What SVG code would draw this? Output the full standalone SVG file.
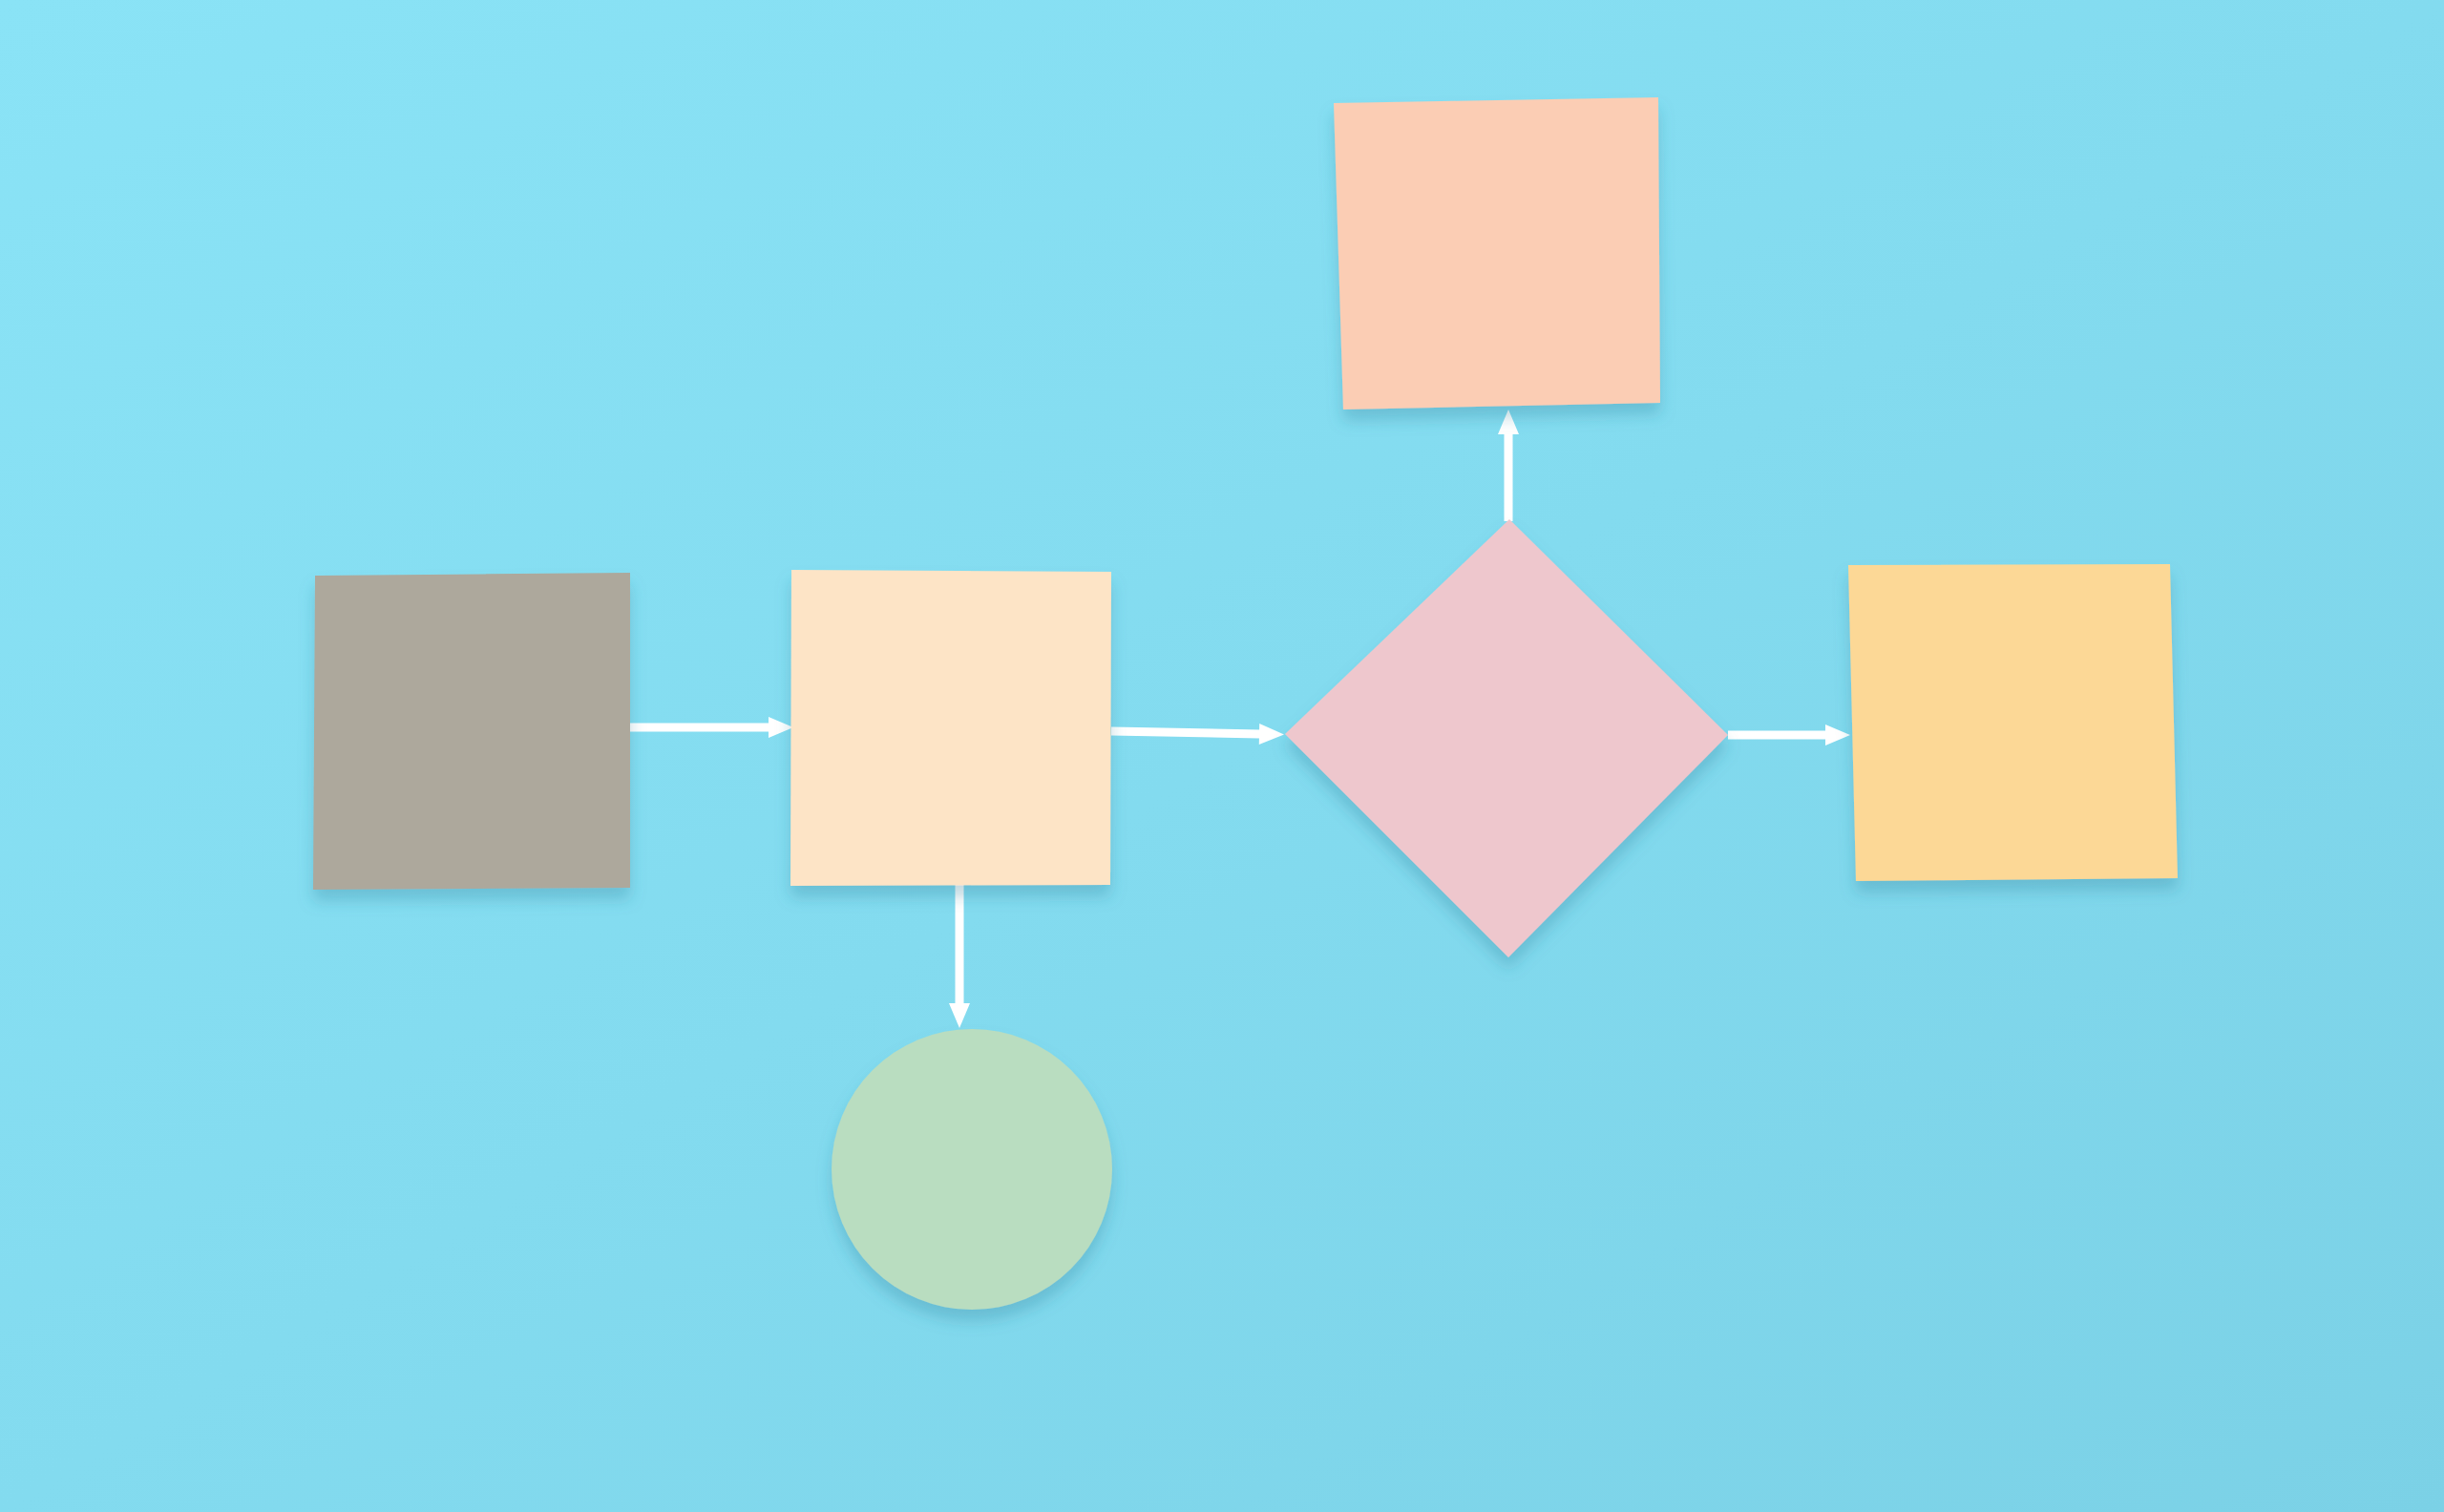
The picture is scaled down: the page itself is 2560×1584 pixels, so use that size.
<svg xmlns="http://www.w3.org/2000/svg" width="2560" height="1584" viewBox="0 0 2560 1584">
<style>
.conn{stroke:#ffffff;stroke-width:9;fill:none;stroke-linecap:butt}
.card{filter:url(#shadow)}
</style>
<defs>
<linearGradient id="bg" x1="0" y1="0" x2="1" y2="1">
<stop offset="0" stop-color="#8AE3F6"/>
<stop offset="0.5" stop-color="#83DBEF"/>
<stop offset="1" stop-color="#7BD1E6"/>
</linearGradient>
<filter id="shadow" x="-10%" y="-10%" width="120%" height="125%">
<feDropShadow dx="0" dy="12" stdDeviation="8" flood-color="#2f7f99" flood-opacity="0.3"/>
</filter>
<marker id="arrow" markerUnits="userSpaceOnUse" markerWidth="26" markerHeight="22" refX="1" refY="11" orient="auto" viewBox="0 0 26 22" overflow="visible">
<path d="M0,0 L26,11 L0,22 z" fill="#ffffff"/>
</marker>
</defs>
<rect x="0" y="0" width="2560" height="1584" fill="url(#bg)"/>
<g id="connectors">
<path class="conn" d="M660,762 H806" marker-end="url(#arrow)"/>
<path class="conn" d="M1164,766 L1320,769" marker-end="url(#arrow)"/>
<path class="conn" d="M1810,770 H1913" marker-end="url(#arrow)"/>
<path class="conn" d="M1005,927 V1052" marker-end="url(#arrow)"/>
<path class="conn" d="M1580,546 V454" marker-end="url(#arrow)"/>
</g>
<g id="node-gray" class="card">
<polygon points="330,603 660,600 660,930 328,932" fill="#ADA89C"/>
</g>
<g id="node-cream" class="card">
<polygon points="829,597 1164,599 1163,927 828,928" fill="#FDE4C6"/>
</g>
<g id="node-diamond" class="card">
<polygon points="1581,544 1810,770 1580,1003 1346,769" fill="#EEC7CD"/>
</g>
<g id="node-peach" class="card">
<polygon points="1397,108 1737,102 1739,422 1407,429" fill="#FBCDB4"/>
</g>
<g id="node-orange" class="card">
<polygon points="1936,592 2273,591 2281,920 1944,923" fill="#FCD896"/>
</g>
<g id="node-circle" class="card">
<circle cx="1018" cy="1225" r="147" fill="#B9DDC0"/>
</g>
</svg>
